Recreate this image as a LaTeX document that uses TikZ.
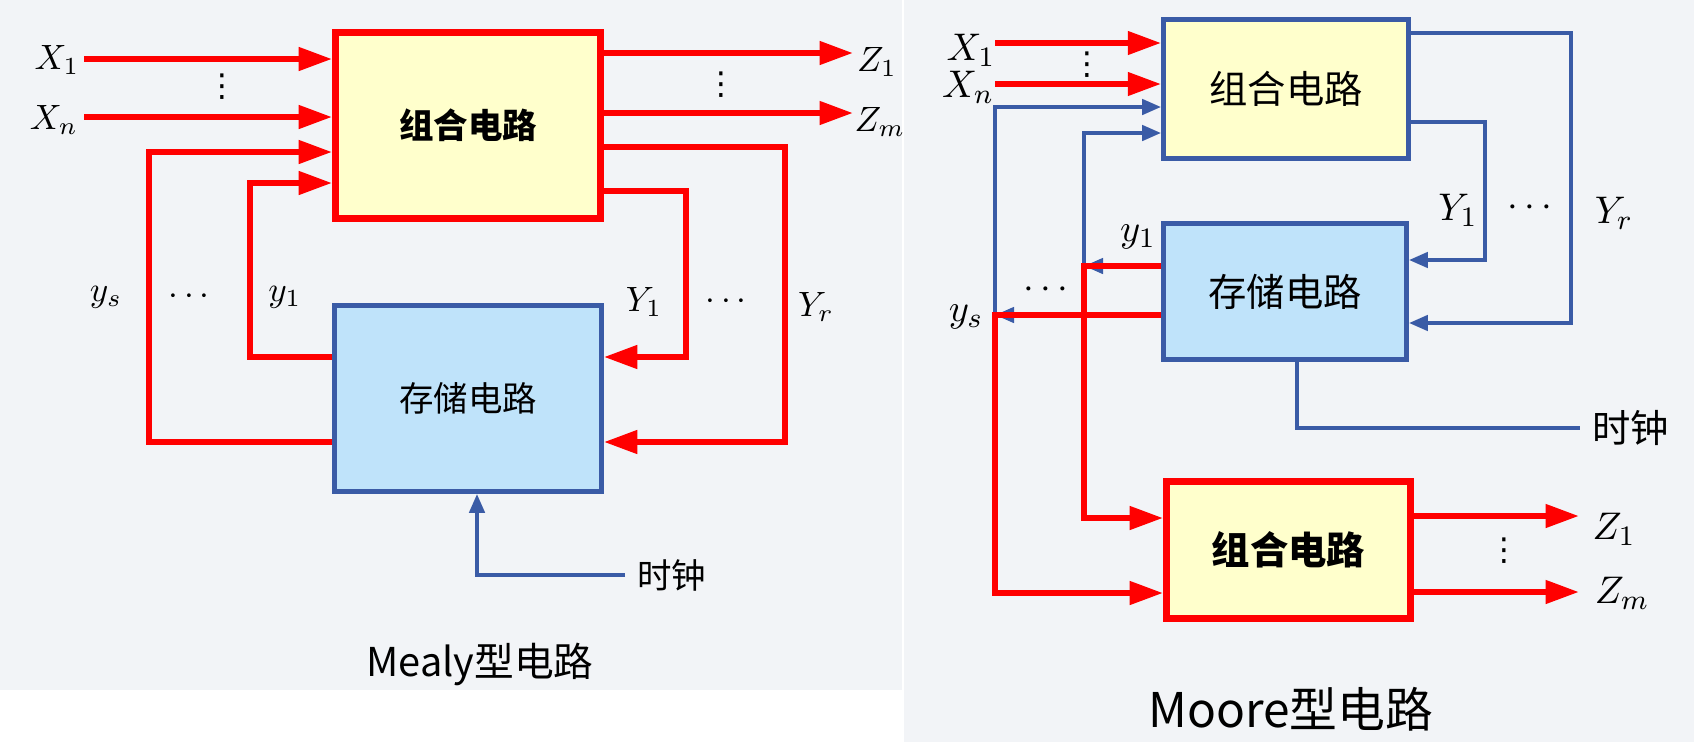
\documentclass[tikz,border=0pt]{standalone}
\usepackage{amsmath}
\usepackage{fontspec}
\newfontfamily\cjk{Noto Sans CJK SC}
\newfontfamily\symb{DejaVu Sans}
\usetikzlibrary{arrows.meta,positioning}

\definecolor{wirered}{HTML}{FF0000}
\definecolor{wireblue}{HTML}{3A5BA6}
\definecolor{boxyellow}{HTML}{FFFFCC}
\definecolor{boxblue}{HTML}{BFE3FA}
\definecolor{panelgray}{HTML}{F2F4F7}

\begin{document}
\begin{tikzpicture}
[
	                 x = 0.01cm,
	                 y = -0.01cm,
	   redwire/.style = { draw=wirered, line width=1.7pt },
	  bluewire/.style = { draw=wireblue, line width=1.15pt },
	  redarrow/.style = { redwire, -{Triangle[length=9.5pt,width=6.4pt]} },
	 bluearrow/.style = { bluewire, -{Triangle[length=5.4pt,width=4.3pt]} },
	  redcomb/.style = { draw=wirered, line width=1.9pt, fill=boxyellow },
	 bluecomb/.style = { draw=wireblue, line width=1.3pt, fill=boxyellow },
	bluestore/.style = { draw=wireblue, line width=1.3pt, fill=boxblue },
	    mtext/.style = { font=\cjk\fontsize{9.8}{11}\selectfont },
	    mbold/.style = { font=\cjk\bfseries\fontsize{9.8}{11}\selectfont },
	    otext/.style = { font=\cjk\fontsize{10.9}{12}\selectfont },
	    obold/.style = { font=\cjk\bfseries\fontsize{10.9}{12}\selectfont },
	     msig/.style = { font=\fontsize{10}{12}\selectfont },
	     osig/.style = { font=\fontsize{11}{13}\selectfont },
	  coldots/.style = { font=\symb\fontsize{9}{10}\selectfont, inner sep=0pt }
]
	\useasboundingbox (0,0) rectangle (1694,742);
	\fill[panelgray] (0,0) rectangle (902,690);
	\fill[panelgray] (904,0) rectangle (1694,742);

	% Mealy circuit
	% nodes
	\node (mC) at (468,125.5) [redcomb, mbold, minimum width=2.65cm, minimum height=1.86cm] {组合电路};
	\node (mS) at (468,398.5) [bluestore, mtext, minimum width=2.67cm, minimum height=1.86cm] {存储电路};

	\node (mX1)    at (57,60)   [msig] {$X_1$};
	\node (mXn)    at (54,120)  [msig] {$X_n$};
	\node (mXdots) at (222,87)  [coldots] {⋮};
	\node (mZ1)    at (877,62)  [msig] {$Z_1$};
	\node (mZm)    at (880,122) [msig] {$Z_m$};
	\node (mZdots) at (721,85)  [coldots] {⋮};
	\node (mys)    at (106,297) [msig] {$y_s$};
	\node (mydots) at (192,297) [msig] {$\cdots$};
	\node (my1)    at (285,297) [msig] {$y_1$};
	\node (mY1)    at (644,302) [msig] {$Y_1$};
	\node (mYdots) at (729,302) [msig] {$\cdots$};
	\node (mYr)    at (816,307) [msig] {$Y_r$};
	\node (mclk)   at (625,575) [mtext, anchor=west] {时钟};
	\node (mcap)   at (480,664) [font=\cjk\fontsize{11.3}{13}\selectfont] {Mealy型电路};

	\coordinate (mx1)   at (84,59);
	\coordinate (mxn)   at (84,117);
	\coordinate (mz1)   at (853,53);
	\coordinate (mzm)   at (853,113);
	\coordinate (mysa)  at (149,442);
	\coordinate (mysb)  at (149,152);
	\coordinate (my1a)  at (250,357);
	\coordinate (my1b)  at (250,183);
	\coordinate (mY1a)  at (686,191);
	\coordinate (mY1b)  at (686,357);
	\coordinate (mYra)  at (785,147);
	\coordinate (mYrb)  at (785,442);
	\coordinate (mclkc) at (477,575);

	% edges
	\draw [redarrow] (mx1) -- (mx1 -| mC.west);
	\draw [redarrow] (mxn) -- (mxn -| mC.west);
	\draw [redarrow] (mz1 -| mC.east) -- (mz1);
	\draw [redarrow] (mzm -| mC.east) -- (mzm);
	\draw [redarrow] (mysa -| mS.west) -- (mysa) -- (mysb) -- (mysb -| mC.west);
	\draw [redarrow] (my1a -| mS.west) -- (my1a) -- (my1b) -- (my1b -| mC.west);
	\draw [redarrow] (mY1a -| mC.east) -- (mY1a) -- (mY1b) -- (mY1b -| mS.east);
	\draw [redarrow] (mYra -| mC.east) -- (mYra) -- (mYrb) -- (mYrb -| mS.east);
	\draw [bluearrow] (mclk.west) -- (mclkc) -- (mclkc |- mS.south);

	% Moore circuit
	% nodes
	\node (oA) at (1286,89)    [bluecomb, otext, minimum width=2.45cm, minimum height=1.39cm] {组合电路};
	\node (oB) at (1285,291.5) [bluestore, otext, minimum width=2.43cm, minimum height=1.36cm] {存储电路};
	\node (oC) at (1288.5,550) [redcomb, obold, minimum width=2.44cm, minimum height=1.37cm] {组合电路};

	\node (oX1)    at (971,50)   [osig] {$X_1$};
	\node (oXn)    at (968,87)   [osig] {$X_n$};
	\node (oXdots) at (1087,65)  [coldots] {⋮};
	\node (oy1)    at (1138,237) [osig] {$y_1$};
	\node (oydots) at (1049,290) [osig] {$\cdots$};
	\node (oys)    at (966,317)  [osig] {$y_s$};
	\node (oY1)    at (1458,210) [osig] {$Y_1$};
	\node (oYdots) at (1533,208) [osig] {$\cdots$};
	\node (oYr)    at (1614,213) [osig] {$Y_r$};
	\node (oZ1)    at (1614,529) [osig] {$Z_1$};
	\node (oZdots) at (1504,551) [coldots] {⋮};
	\node (oZm)    at (1622,593) [osig] {$Z_m$};
	\node (oclk)   at (1580,428) [otext, anchor=west] {时钟};
	\node (ocap)   at (1291,709) [font=\cjk\fontsize{13.6}{15}\selectfont] {Moore型电路};

	\coordinate (ox1)   at (995,43);
	\coordinate (oxn)   at (995,84);
	\coordinate (oysa)  at (995,315);
	\coordinate (oysb)  at (995,107);
	\coordinate (oysc)  at (995,593);
	\coordinate (oy1a)  at (1084,266);
	\coordinate (oy1b)  at (1084,133);
	\coordinate (oy1c)  at (1084,518);
	\coordinate (oY1a)  at (1485,122);
	\coordinate (oY1b)  at (1485,260);
	\coordinate (oYra)  at (1571,33);
	\coordinate (oYrb)  at (1571,323);
	\coordinate (oclka) at (1297,428);
	\coordinate (oz1)   at (1579,516);
	\coordinate (ozm)   at (1579,592);

	% edges
	\draw [redarrow] (ox1) -- (ox1 -| oA.west);
	\draw [redarrow] (oxn) -- (oxn -| oA.west);
	\draw [bluearrow] (oysa) -- (oysb) -- (oysb -| oA.west);
	\draw [bluearrow] (oy1a) -- (oy1b) -- (oy1b -| oA.west);
	\draw [bluearrow] (oysa -| oB.west) -- (oysa);
	\draw [bluearrow] (oy1a -| oB.west) -- (oy1a);
	\draw [redarrow] (oysa -| oB.west) -- (oysa) -- (oysc) -- (oysc -| oC.west);
	\draw [redarrow] (oy1a -| oB.west) -- (oy1a) -- (oy1c) -- (oy1c -| oC.west);
	\draw [bluearrow] (oY1a -| oA.east) -- (oY1a) -- (oY1b) -- (oY1b -| oB.east);
	\draw [bluearrow] (oYra -| oA.east) -- (oYra) -- (oYrb) -- (oYrb -| oB.east);
	\draw [bluewire] (oclka |- oB.south) -- (oclka) -- (oclk.west);
	\draw [redarrow] (oz1 -| oC.east) -- (oz1);
	\draw [redarrow] (ozm -| oC.east) -- (ozm);
\end{tikzpicture}
\end{document}
